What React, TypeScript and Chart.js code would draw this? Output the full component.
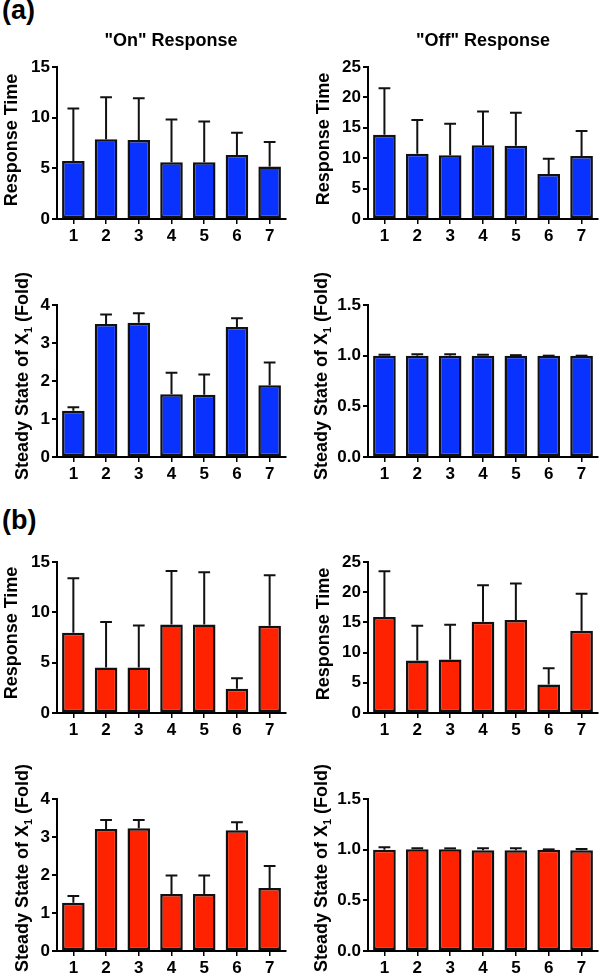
import React, { useEffect, useRef } from 'react';
import { Chart, registerables } from 'chart.js';

Chart.register(...registerables);

const FONT = '"Liberation Sans", Arial, Helvetica, sans-serif';

// ---------- data ----------
const categories = ['1', '2', '3', '4', '5', '6', '7'];

// (a) blue
const onTimeBlue = [5.73, 7.86, 7.8, 5.6, 5.6, 6.32, 5.18];
const onTimeBlueErr = [5.18, 4.16, 4.12, 4.23, 4.03, 2.2, 2.42];
const offTimeBlue = [13.86, 10.75, 10.48, 12.12, 12.06, 7.42, 10.37];
const offTimeBlueErr = [7.64, 5.52, 5.19, 5.57, 5.41, 2.51, 4.1];
const onSteadyBlue = [1.22, 3.5, 3.53, 1.65, 1.64, 3.42, 1.89];
const onSteadyBlueErr = [0.09, 0.25, 0.25, 0.57, 0.53, 0.23, 0.6];
const offSteadyBlue = [1.0, 1.0, 1.0, 1.0, 1.0, 1.0, 1.0];
const offSteadyBlueErr = [0.01, 0.015, 0.015, 0.01, 0.005, 0.0, 0.0];

// (b) red
const onTimeRed = [7.98, 4.52, 4.52, 8.8, 8.8, 2.41, 8.67];
const onTimeRedErr = [5.41, 4.51, 4.18, 5.31, 5.18, 1.05, 5.01];
const offTimeRed = [15.88, 8.68, 8.85, 15.11, 15.38, 4.73, 13.63];
const offTimeRedErr = [7.58, 5.77, 5.77, 6.04, 6.05, 2.69, 6.1];
const onSteadyRed = [1.27, 3.21, 3.23, 1.5, 1.5, 3.18, 1.66];
const onSteadyRedErr = [0.18, 0.24, 0.22, 0.49, 0.49, 0.21, 0.58];
const offSteadyRed = [1.0, 1.005, 1.005, 0.995, 0.995, 1.0, 0.995];
const offSteadyRedErr = [0.025, 0.01, 0.008, 0.02, 0.02, 0.003, 0.012];

// axis ranges / tick steps
const timeOnMax = 15;
const timeOffMax = 25;
const steadyOnMax = 4;
const steadyOffMax = 1.5;

const BLUE = '#0A32FF';
const RED = '#FF2200';

type Seg = { text: string; size: number; dy?: number };
const titleTime: Seg[] = [{ text: 'Response Time', size: 18 }];
const titleSteady: Seg[] = [
  { text: 'Steady State of X', size: 18 },
  { text: '1', size: 11, dy: 4 },
  { text: ' (Fold)', size: 18 },
];

type Panel = {
  left: number; top: number; width: number; height: number;
  yW: number; padTop: number; padRight: number; xH: number;
  values: number[]; errors: number[]; color: string;
  max: number; step: number; decimals: number;
  title: Seg[]; tx: number; ty: number;
};

const mk = (
  col: number, row: number, values: number[], errors: number[], color: string,
  max: number, step: number, decimals: number, title: Seg[], tx: number, tyAbs: number
): Panel => {
  const rows = [
    { top: 45, chartTop: 67, chartBottom: 219, bottom: 252 },
    { top: 255, chartTop: 305, chartBottom: 457, bottom: 492 },
    { top: 535, chartTop: 562, chartBottom: 713, bottom: 748 },
    { top: 750, chartTop: 799, chartBottom: 951, bottom: 979 },
  ];
  const r = rows[row];
  const left = col === 0 ? 0 : 300;
  const width = 300;
  const yW = col === 0 ? 57 : 68;
  const chartRight = col === 0 ? 286 : 598;
  return {
    left, top: r.top, width, height: r.bottom - r.top,
    yW, padTop: r.chartTop - r.top, padRight: left + width - chartRight, xH: r.bottom - r.chartBottom,
    values, errors, color, max, step, decimals, title, tx, ty: tyAbs - r.top,
  };
};

const panels: Panel[] = [
  mk(0, 0, onTimeBlue, onTimeBlueErr, BLUE, timeOnMax, 5, 0, titleTime, 10.5, 140),
  mk(1, 0, offTimeBlue, offTimeBlueErr, BLUE, timeOffMax, 5, 0, titleTime, 23, 139),
  mk(0, 1, onSteadyBlue, onSteadyBlueErr, BLUE, steadyOnMax, 1, 0, titleSteady, 21.5, 376),
  mk(1, 1, offSteadyBlue, offSteadyBlueErr, BLUE, steadyOffMax, 0.5, 1, titleSteady, 20.5, 376),
  mk(0, 2, onTimeRed, onTimeRedErr, RED, timeOnMax, 5, 0, titleTime, 10.5, 633),
  mk(1, 2, offTimeRed, offTimeRedErr, RED, timeOffMax, 5, 0, titleTime, 23, 634),
  mk(0, 3, onSteadyRed, onSteadyRedErr, RED, steadyOnMax, 1, 0, titleSteady, 21.5, 868),
  mk(1, 3, offSteadyRed, offSteadyRedErr, RED, steadyOffMax, 0.5, 1, titleSteady, 20.5, 868),
];

const errorBarPlugin = {
  id: 'errorBars',
  afterDatasetsDraw(chart: any) {
    const ds: any = chart.data.datasets[0];
    const errs: number[] = ds.errors || [];
    const meta = chart.getDatasetMeta(0);
    const yScale = chart.scales.y;
    const ctx = chart.ctx;
    ctx.save();
    ctx.strokeStyle = '#111';
    ctx.lineWidth = 2;
    meta.data.forEach((bar: any, i: number) => {
      const { x, y, width } = bar.getProps(['x', 'y', 'width'], true);
      const top = yScale.getPixelForValue(ds.data[i] + errs[i]);
      const cap = width * 0.52;
      ctx.beginPath();
      if (top < y - 1) {
        ctx.moveTo(x, y);
        ctx.lineTo(x, top);
      }
      ctx.moveTo(x - cap / 2, top);
      ctx.lineTo(x + cap / 2, top);
      ctx.stroke();
    });
    ctx.restore();
  },
};

const makeTitlePlugin = (segs: Seg[], tx: number, ty: number) => ({
  id: 'yTitleCustom',
  afterDraw(chart: any) {
    const ctx = chart.ctx;
    ctx.save();
    ctx.translate(tx, ty);
    ctx.rotate(-Math.PI / 2);
    ctx.fillStyle = '#000';
    ctx.textBaseline = 'alphabetic';
    ctx.textAlign = 'left';
    let total = 0;
    const widths = segs.map((s) => {
      ctx.font = `bold ${s.size}px ${FONT}`;
      const w = ctx.measureText(s.text).width;
      total += w;
      return w;
    });
    let cx = -total / 2;
    const base = 0.358 * 18;
    segs.forEach((s, i) => {
      ctx.font = `bold ${s.size}px ${FONT}`;
      ctx.fillText(s.text, cx, base + (s.dy || 0));
      cx += widths[i];
    });
    ctx.restore();
  },
});

function BarPanel({ p }: { p: Panel }) {
  const ref = useRef<HTMLCanvasElement | null>(null);
  useEffect(() => {
    if (!ref.current) return;
    const chart = new Chart(ref.current, {
      type: 'bar',
      data: {
        labels: categories,
        datasets: [
          {
            data: p.values,
            errors: p.errors,
            backgroundColor: p.color,
            borderColor: '#111',
            borderWidth: 2.5,
            borderSkipped: false,
            barPercentage: 0.69,
            categoryPercentage: 1,
          } as any,
        ],
      },
      options: {
        animation: false,
        responsive: false,
        devicePixelRatio: 1,
        layout: { padding: { left: 0, top: p.padTop, right: p.padRight, bottom: 0 } },
        plugins: { legend: { display: false }, tooltip: { enabled: false } },
        scales: {
          x: {
            offset: true,
            afterFit: (s: any) => { s.height = p.xH; },
            grid: {
              display: true, offset: false, drawOnChartArea: false, drawTicks: true,
              tickLength: 5, color: '#000', lineWidth: 1.5,
            },
            border: { display: true, color: '#000', width: 2 },
            ticks: { color: '#000', font: { family: FONT, size: 17, weight: 'bold' }, padding: 2, maxRotation: 0 },
          },
          y: {
            min: 0,
            max: p.max,
            afterFit: (s: any) => { s.width = p.yW; },
            grid: {
              display: true, drawOnChartArea: false, drawTicks: true,
              tickLength: 5, color: '#000', lineWidth: 2,
            },
            border: { display: true, color: '#000', width: 2 },
            ticks: {
              stepSize: p.step,
              color: '#000',
              padding: 2,
              font: { family: FONT, size: 17, weight: 'bold' },
              callback: (v: any) => Number(v).toFixed(p.decimals),
            },
          },
        },
      } as any,
      plugins: [errorBarPlugin, makeTitlePlugin(p.title, p.tx, p.ty)],
    });
    return () => chart.destroy();
  }, [p]);
  return (
    <canvas
      ref={ref}
      width={p.width}
      height={p.height}
      style={{ position: 'absolute', left: p.left, top: p.top, width: p.width, height: p.height }}
    />
  );
}

const labelStyle: React.CSSProperties = {
  position: 'absolute',
  fontFamily: FONT,
  fontWeight: 'bold',
  lineHeight: 1,
  whiteSpace: 'nowrap',
  color: '#000',
};

export default function App() {
  return (
    <div style={{ position: 'absolute', left: 0, top: 0, width: 600, height: 979, background: '#fff', overflow: 'hidden' }}>
      {panels.map((p, i) => (
        <BarPanel key={i} p={p} />
      ))}
      <div style={{ ...labelStyle, left: 2, top: -3, fontSize: 27 }}>(a)</div>
      <div style={{ ...labelStyle, left: 2, top: 507, fontSize: 27 }}>(b)</div>
      <div style={{ ...labelStyle, left: 171, top: 31, fontSize: 18, transform: 'translateX(-50%)' }}>"On" Response</div>
      <div style={{ ...labelStyle, left: 483, top: 31, fontSize: 18, transform: 'translateX(-50%)' }}>"Off" Response</div>
    </div>
  );
}
